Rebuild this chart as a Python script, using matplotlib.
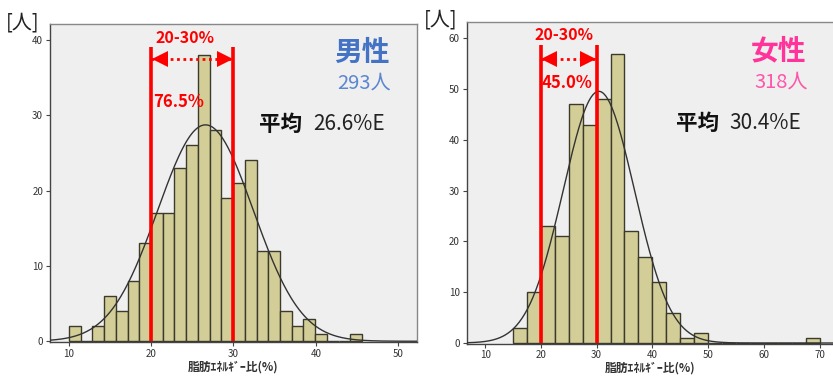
import numpy as np
import matplotlib.pyplot as plt
from matplotlib.transforms import offset_copy

plt.rcParams['font.family'] = ['Noto Sans CJK JP', 'DejaVu Sans']

# 男性: histogram counts (bins from male_bin_start, width male_bin_width)
male_counts = [2, 0, 2, 6, 4, 8, 13, 17, 17, 23, 26, 38, 28, 19, 21, 24, 12, 12, 4, 2, 3, 1, 0, 0, 1]
male_bin_start = 10.0
male_bin_width = 1.425
male_n = 293
male_mean = 26.6
male_sd = 5.8

# 女性
female_counts = [3, 10, 23, 21, 47, 43, 48, 57, 22, 17, 12, 6, 1, 2, 0, 0, 0, 0, 0, 0, 0, 1]
female_bin_start = 15.0
female_bin_width = 2.5
female_n = 318
female_mean = 30.4
female_sd = 6.4

range_lo, range_hi = 20, 30
male_in_range = '76.5%'
female_in_range = '45.0%'

bar_color = '#D3CE97'
bar_edge = '#3b3a2c'
xlabel = '脂肪ｴﾈﾙｷﾞｰ比(%)'


def draw_panel(fig, ax, counts, start, width, n, mean, sd, xlim, ylim, xticks, yticks,
               line_top, arrow_y, label_y, pct_y, pct_text, sex, sex_color, n_color, mean_text):
    ax.set_facecolor('#EFEFEF')
    edges = start + width * np.arange(len(counts))
    ax.bar(edges, counts, width=width, align='edge', color=bar_color,
           edgecolor=bar_edge, linewidth=1.0, zorder=2)

    xs = np.linspace(xlim[0], xlim[1], 400)
    ys = n * width / (sd * np.sqrt(2 * np.pi)) * np.exp(-0.5 * ((xs - mean) / sd) ** 2)
    ax.plot(xs, ys, color='#333333', lw=1.0, zorder=3)

    # red range lines + dotted double arrow
    for xv in (range_lo, range_hi):
        ax.plot([xv, xv], [0, line_top], color='#FF0000', lw=2.6, zorder=4, solid_capstyle='butt')
    ax.plot([range_lo, range_hi], [arrow_y, arrow_y], color='#FF0000', lw=2.0,
            linestyle=(0, (1, 1.3)), zorder=5)
    tr_left = offset_copy(ax.transData, fig=fig, x=6, y=0, units='points')
    tr_right = offset_copy(ax.transData, fig=fig, x=-6, y=0, units='points')
    ax.plot([range_lo], [arrow_y], marker='<', ms=12, color='#FF0000', mew=0,
            transform=tr_left, zorder=6)
    ax.plot([range_hi], [arrow_y], marker='>', ms=12, color='#FF0000', mew=0,
            transform=tr_right, zorder=6)

    mid = (range_lo + range_hi) / 2
    ax.text(mid - 0.9, label_y, f'{range_lo}-{range_hi}%', color='#FF0000', fontsize=11.5,
            fontweight='bold', ha='center', va='center', zorder=6)
    ax.text(range_lo + 0.2, pct_y, pct_text, color='#FF0000', fontsize=12,
            fontweight='bold', ha='left', va='center', zorder=6)

    ax.text(0.85, 0.91, sex, color=sex_color, fontsize=20, fontweight='bold',
            ha='center', va='center', transform=ax.transAxes)
    ax.text(0.855, 0.813, f'{n}人', color=n_color, fontsize=14.5,
            ha='center', va='center', transform=ax.transAxes)
    ax.text(0.627, 0.685, '平均', color='#111111', fontsize=15.5, fontweight='bold',
            ha='center', va='center', transform=ax.transAxes)
    ax.text(0.716, 0.685, mean_text, color='#222222', fontsize=15,
            ha='left', va='center', transform=ax.transAxes)

    ax.set_xlim(*xlim)
    ax.set_ylim(*ylim)
    ax.set_xticks(xticks)
    ax.set_yticks(yticks)
    ax.tick_params(axis='both', labelsize=7, labelcolor='#333333', color='#444444',
                   length=3, width=0.8, pad=2)
    ax.set_xlabel(xlabel, fontsize=8.5, color='#333333', fontweight='bold', labelpad=1)
    for side in ('left', 'bottom'):
        ax.spines[side].set_color('#444444')
        ax.spines[side].set_linewidth(1.0)
    for side in ('top', 'right'):
        ax.spines[side].set_color('#888888')
        ax.spines[side].set_linewidth(1.0)


fig = plt.figure(figsize=(8.33, 3.76), dpi=100)
ax1 = fig.add_axes([0.060, 0.0904, 0.4406, 0.8457])
ax2 = fig.add_axes([0.5603, 0.0864, 0.441, 0.855])

draw_panel(fig, ax1, male_counts, male_bin_start, male_bin_width, male_n, male_mean, male_sd,
           (7.7, 52.3), (-0.1, 42.1), [10, 20, 30, 40, 50], [0, 10, 20, 30, 40],
           39.1, 37.5, 40.2, 31.7, male_in_range, '男性', '#4472C4', '#5B86D0', '26.6%E')
draw_panel(fig, ax2, female_counts, female_bin_start, female_bin_width, female_n, female_mean, female_sd,
           (6.7, 72.6), (-0.1, 63.2), [10, 20, 30, 40, 50, 60, 70], [0, 10, 20, 30, 40, 50, 60],
           58.7, 55.9, 60.6, 51.2, female_in_range, '女性', '#FF3399', '#FF55AA', '30.4%E')

fig.text(0.007, 0.938, '[人]', fontsize=14.5, color='#222222', ha='left', va='center')
fig.text(0.509, 0.948, '[人]', fontsize=14.5, color='#222222', ha='left', va='center')

fig.savefig('out.png', dpi=100)
